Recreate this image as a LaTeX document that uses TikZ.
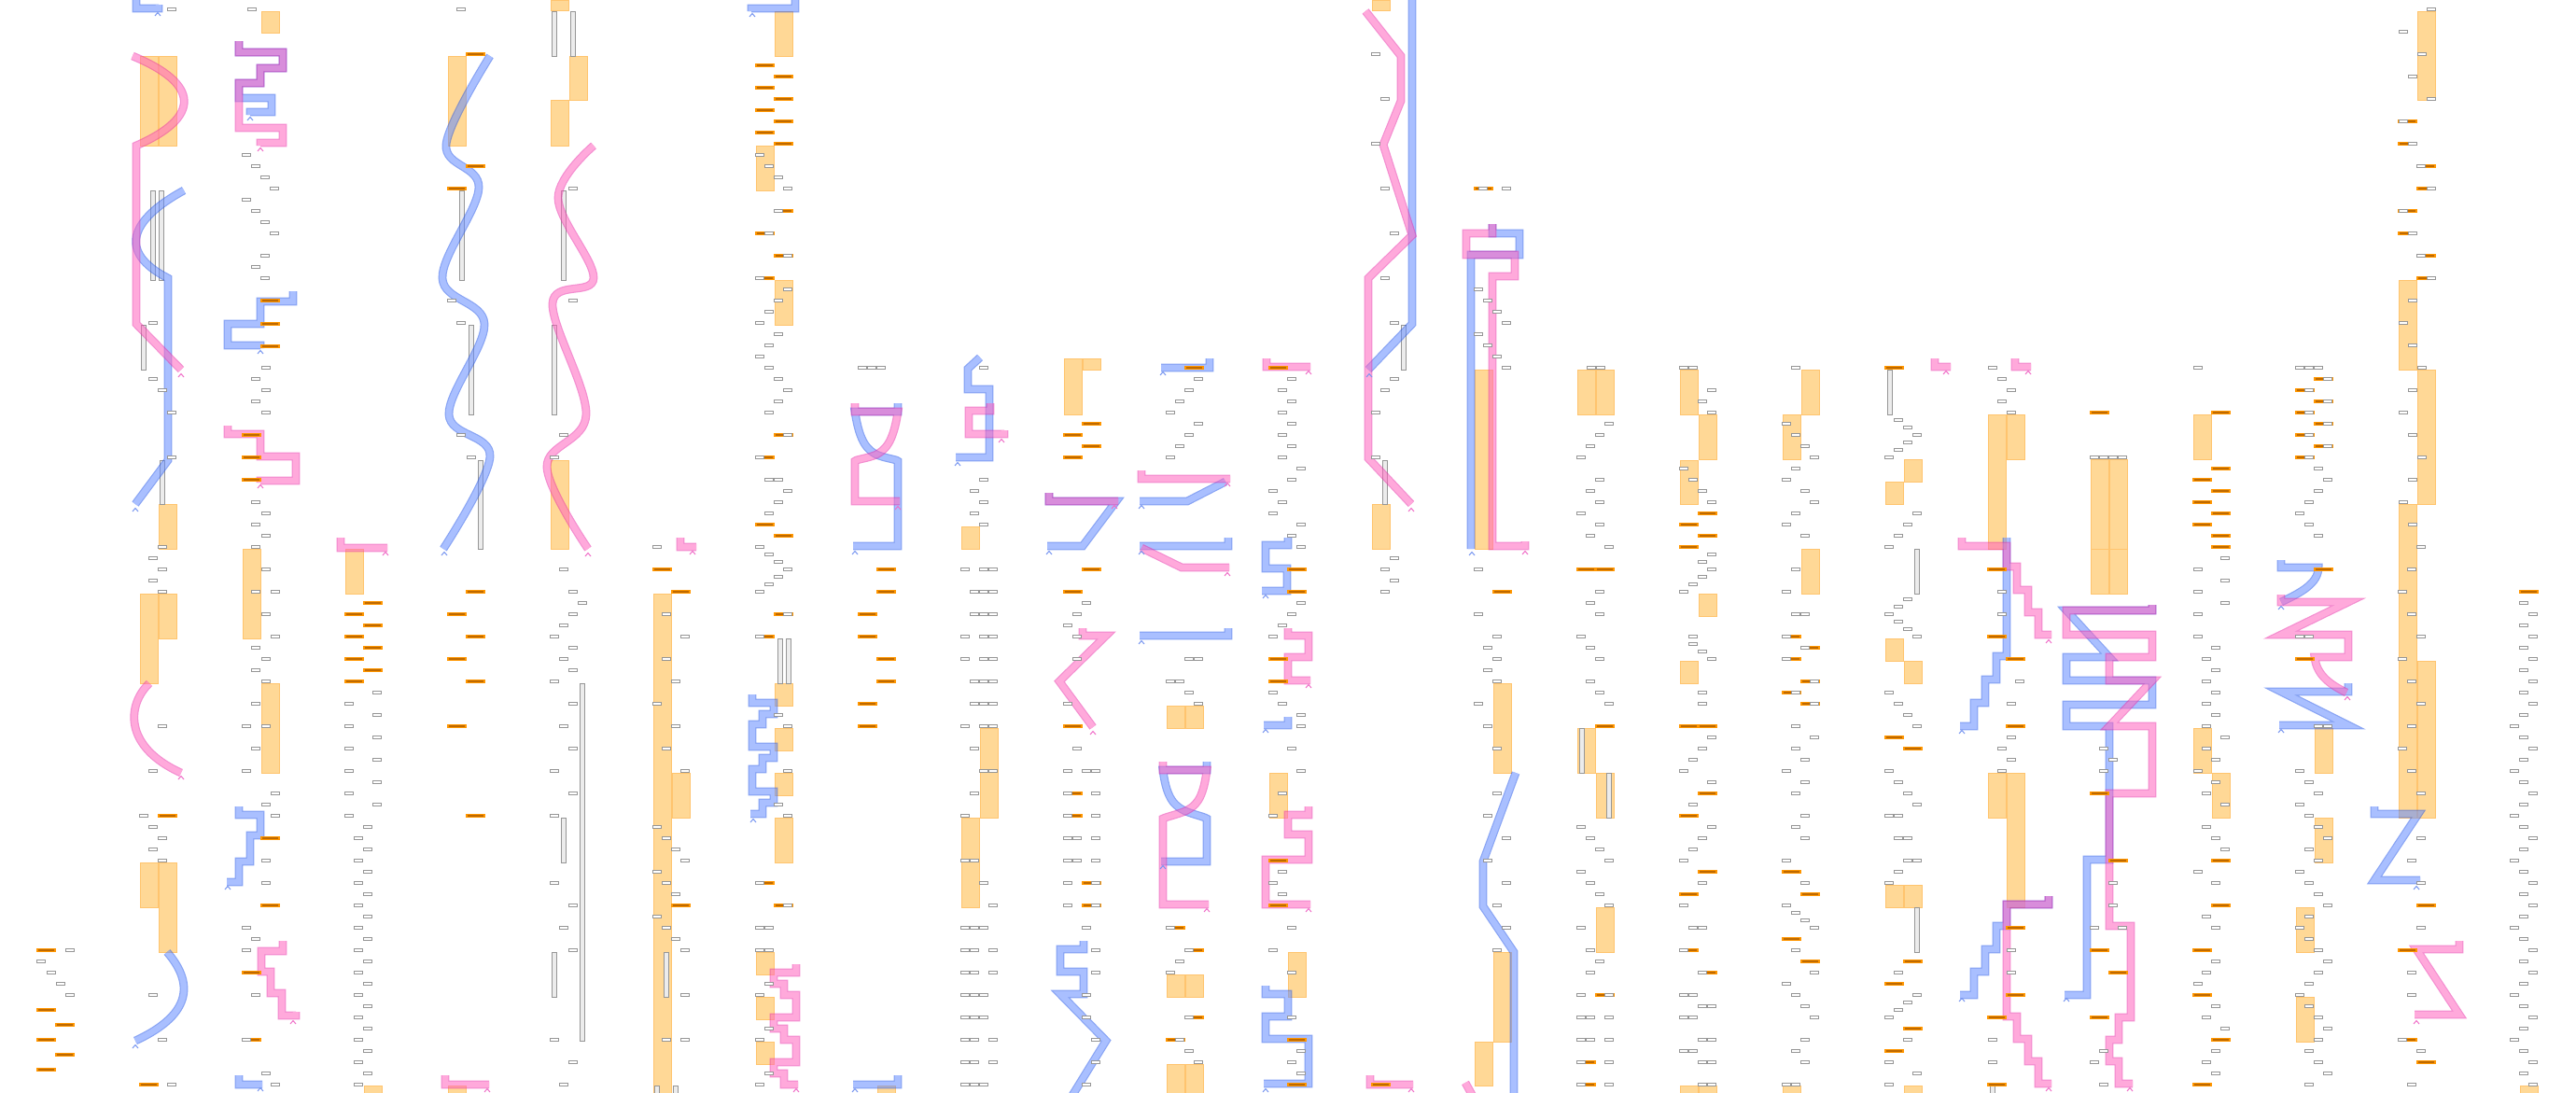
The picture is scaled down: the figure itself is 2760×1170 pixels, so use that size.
\documentclass[tikz,border=0pt]{standalone}
\begin{document}
\definecolor{colF}{RGB}{255,216,150}
\definecolor{colB}{RGB}{255,196,110}
\definecolor{obF}{RGB}{190,105,0}
\definecolor{obB}{RGB}{255,150,0}
\definecolor{tkB}{RGB}{150,150,150}
\definecolor{gdB}{RGB}{150,150,150}
\definecolor{gdF}{RGB}{236,236,236}
\definecolor{bF}{RGB}{100,140,255}
\definecolor{bB}{RGB}{40,90,235}
\definecolor{pF}{RGB}{255,100,190}
\definecolor{pB}{RGB}{235,50,170}
\definecolor{bC}{RGB}{120,150,240}
\definecolor{pC}{RGB}{240,110,200}
\newcommand\tk[2]{\path[tk] ({#1-4.3},{#2-1.5}) rectangle ({#1+4.3},{#2+1.5});}
\newcommand\ob[2]{\path[obar] (#1,{#2-1.8}) rectangle ({#1+19},{#2+1.8});}
\newcommand\cb[3]{\path[colbox] (#1,#2) rectangle ({#1+19},#3);}
\newcommand\gd[3]{\path[gdl] ({#1-2.5},#2) rectangle ({#1+2.5},#3);}
\newcommand\car[3]{\draw[#1,line width=1pt] ({#2-3},{#3+2}) -- (#2,{#3-1.5}) -- ({#2+3},{#3+2});}
\begin{tikzpicture}[x=1pt,y=-1pt,
  tk/.style={draw=tkB,fill=white,line width=0.9pt},
  obar/.style={draw=obB,fill=obF,line width=1.1pt},
  colbox/.style={draw=colB,fill=colF,line width=0.8pt},
  gdl/.style={draw=gdB,fill=gdF,line width=0.7pt},
  bline/.style={draw=bB,double=bF,line width=1.2pt,double distance=6.4pt,line join=miter},
  pline/.style={draw=pB,double=pF,line width=1.2pt,double distance=6.4pt,line join=miter}]
\useasboundingbox (0,0) rectangle (2760,1170);
\fill[white] (0,0) rectangle (2760,1170);
% ---------- columns ----------
\foreach \a/\b/\c in {280/12/35,150/60/156,170/60/156,480/60/156,590/0/11,610/60/107,590/107/156,
 830/12/60,810/156/204,830/300/348,170/540/588,590/493/588,1470/0/11,1470/540/588,1140/384/444,1160/384/396,
 1030/564/588,1580/396/588,1690/396/444,1710/396/444,1800/396/444,1820/444/492,1800/493/540,1930/396/444,1910/444/492,
 2040/492/516,2020/516/540,2130/444/588,2150/444/492,2240/492/588,2260/492/588,2350/444/492,
 2590/12/107,2570/300/396,2590/396/540,2570/540/876,
 150/636/732,170/636/684,150/924/972,170/924/1020,260/588/684,280/732/828,370/588/636,390/1163/1175,480/1163/1175,
 700/636/1175,720/828/876,830/732/756,830/780/804,830/828/852,830/876/924,810/1020/1044,810/1068/1092,810/1116/1140,
 940/1163/1175,1050/780/876,1030/876/972,1250/756/780,1270/756/780,1250/1044/1068,1270/1044/1068,1250/1140/1175,1270/1140/1175,
 1360/828/876,1380/1020/1068,1600/732/828,1600/1020/1116,1580/1116/1163,1690/780/828,1710/828/876,1710/972/1020,
 1820/636/660,1800/708/732,1800/1163/1175,1820/1163/1175,1930/588/636,1910/1163/1175,
 2020/684/708,2040/708/732,2020/948/972,2040/948/972,2040/1163/1175,2130/828/876,2150/828/972,2240/588/636,2260/588/636,
 2350/780/828,2370/828/876,2480/780/828,2480/876/924,2460/972/1020,2460/1068/1116,2590/708/876,2700/1163/1175}
 {\cb{\a}{\b}{\c}}
% ---------- grey double lines ----------
\foreach \a/\b/\c in {164/204/300,173/204/300,154/348/396,174/493/540,495/204/300,505/348/444,515/493/588,
 594/12/60,614/12/60,604/204/300,594/348/444,1504/348/396,1484/493/540,2025/396/444,
 624/732/1115,604/876/924,594/1020/1068,714/1020/1068,704/1163/1175,724/1163/1175,836/684/732,845/684/732,
 1695/780/828,1724/828/876,2054/588/636,2054/972/1020,2135/1163/1175}
 {\gd{\a}{\b}{\c}}
% ---------- blue paths ----------
\begin{scope}[transparency group,opacity=0.55]
\draw[bline] (146,-2)--(146,9)--(170,9)--(170,5);
\draw[bline] (256,44)--(256,56)--(303,56)--(303,73)--(279,73)--(279,89)--(256,89)--(256,105)--(291,105)--(291,120)--(268,120)--(268,123);
\draw[bline] (197,204) .. controls (140,235) and (125,270) .. (180,298) -- (180,493) -- (145,540);
\draw[bline] (314,312)--(314,323)--(279,323)--(279,347)--(244,347)--(244,370)--(279,370)--(279,373);
\draw[bline] plot[smooth,tension=0.6] coordinates {(525,60) (478,155) (513,201) (474,298) (519,347) (481,444) (525,489) (475,588)};
\draw[bline] (852,-2)--(852,9)--(805,9)--(805,12);
\draw[bline] (962,432)--(962,441)--(916,441) .. controls (921,475) and (930,482) .. (939,487) .. controls (948,491) and (960,492) .. (962,494) -- (962,585) -- (914,585);
\draw[bline] (1050,383)--(1037,395)--(1037,417)--(1060,417)--(1060,490)--(1024,490);
\draw[bline] (1124,528)--(1124,537)--(1196,537)--(1160,585)--(1122,585);
\draw[bline] (1296,384)--(1296,394)--(1244,394);
\draw[bline] (1313,516)--(1272,537)--(1221,537);
\draw[bline] (1316,576)--(1316,585)--(1221,585);
\draw[bline] (1513,-2)--(1513,347)--(1466,396);
\draw[bline] (1599,240)--(1599,250)--(1628,250)--(1628,273)--(1576,273)--(1576,588);
\draw[bline] (179,1020) .. controls (205,1050) and (210,1085) .. (145,1115);
\draw[bline] (256,864)--(256,873)--(279,873)--(279,895)--(268,895)--(268,923)--(256,923)--(256,945)--(243,945);
\draw[bline] (256,1152)--(256,1162)--(281,1162);
\draw[bline] (806,744)--(806,753)--(829,753)--(829,765)--(817,765)--(817,776)--(806,776)--(806,800)--(829,800)--(829,812)--(817,812)--(817,824)--(806,824)--(806,848)--(829,848)--(829,860)--(817,860)--(817,872)--(804,872);
\draw[bline] (962,1152)--(962,1162)--(914,1162);
\draw[bline] (1161,1008)--(1161,1017)--(1136,1017)--(1136,1041)--(1161,1041)--(1161,1065)--(1136,1065)--(1185,1115)--(1148,1175);
\draw[bline] (1316,673)--(1316,681)--(1221,681);
\draw[bline] (1293,816)--(1293,825)--(1246,825) .. controls (1250,858) and (1260,864) .. (1270,869) .. controls (1280,873) and (1290,875) .. (1293,877) -- (1293,923) -- (1244,923);
\draw[bline] (1380,576)--(1380,584)--(1356,584)--(1356,609)--(1379,609)--(1379,633)--(1352,633);
\draw[bline] (1380,768)--(1380,777)--(1354,777);
\draw[bline] (1356,1056)--(1356,1065)--(1380,1065)--(1380,1089)--(1356,1089)--(1356,1113)--(1402,1113)--(1402,1161)--(1354,1161);
\draw[bline] (1624,828)--(1589,923)--(1589,971)--(1622,1020)--(1622,1175);
\draw[bline] (2150,576)--(2150,703)--(2139,703)--(2139,728)--(2127,728)--(2127,753)--(2115,753)--(2115,778)--(2100,778);
\draw[bline] (2195,960)--(2195,969)--(2150,969)--(2150,992)--(2139,992)--(2139,1017)--(2127,1017)--(2127,1041)--(2115,1041)--(2115,1066)--(2100,1066);
\draw[bline] (2306,648)--(2306,654)--(2214,654)--(2260,704)--(2214,704)--(2214,729)--(2306,729)--(2306,755)--(2214,755)--(2214,778)--(2260,778)--(2260,921)--(2236,921)--(2236,1066)--(2212,1066);
\draw[bline] (2444,600)--(2444,608)--(2484,608) .. controls (2484,625) and (2465,635) .. (2444,645);
\draw[bline] (2516,732)--(2516,741)--(2444,741)--(2516,777)--(2442,777);
\draw[bline] (2544,864)--(2544,872)--(2591,872)--(2544,943)--(2593,943);
\end{scope}
% ---------- pink paths ----------
\begin{scope}[transparency group,opacity=0.55]
\draw[pline] (142,60) .. controls (215,90) and (215,126) .. (146,156) -- (146,347) -- (194,396);
\draw[pline] (256,44)--(256,56)--(303,56)--(303,73)--(279,73)--(279,89)--(256,89)--(256,137)--(303,137)--(303,153)--(279,153)--(279,156);
\draw[pline] (244,456)--(244,465)--(279,465)--(279,489)--(317,489)--(317,515)--(279,515)--(279,517);
\draw[pline] plot[smooth,tension=0.6] coordinates {(636,156) (598,212) (636,298) (592,325) (628,444) (586,500) (630,588)};
\draw[pline] (916,432)--(916,441)--(962,441) .. controls (957,475) and (948,482) .. (939,487) .. controls (930,491) and (918,492) .. (916,494) -- (916,537) -- (964,537);
\draw[pline] (1061,432)--(1061,440)--(1038,440)--(1038,465)--(1076,465)--(1076,461);
\draw[pline] (1124,528)--(1124,537)--(1198,537);
\draw[pline] (1223,504)--(1223,513)--(1318,513);
\draw[pline] (1357,384)--(1357,393)--(1404,393);
\draw[pline] (1463,12)--(1501,60)--(1501,108)--(1482,155)--(1513,252)--(1466,298)--(1466,491)--(1512,540);
\draw[pline] (1599,240)--(1599,250)--(1571,250)--(1571,273)--(1623,273)--(1623,296)--(1599,296)--(1599,585)--(1634,585)--(1634,580);
\draw[pline] (2073,384)--(2073,393)--(2090,393);
\draw[pline] (2159,384)--(2159,393)--(2176,393);
\draw[pline] (2102,576)--(2102,585)--(2150,585)--(2150,607)--(2161,607)--(2161,632)--(2173,632)--(2173,656)--(2184,656)--(2184,680)--(2198,680);
\draw[pline] (365,576)--(365,587)--(415,587);
\draw[pline] (729,576)--(729,586)--(746,586);
\draw[pline] (160,732) .. controls (136,755) and (132,800) .. (194,828);
\draw[pline] (303,1008)--(303,1019)--(280,1019)--(280,1041)--(290,1041)--(290,1064)--(302,1064)--(302,1088)--(317,1088)--(317,1084);
\draw[pline] (477,1152)--(477,1162)--(524,1162);
\draw[pline] (853,1033)--(853,1042)--(829,1042)--(829,1054)--(840,1054)--(840,1066)--(853,1066)--(853,1090)--(829,1090)--(829,1102)--(840,1102)--(840,1114)--(853,1114)--(853,1138)--(829,1138)--(829,1150)--(840,1150)--(840,1162)--(855,1162);
\draw[pline] (1223,587)--(1266,608)--(1317,608);
\draw[pline] (1160,673)--(1160,681)--(1185,681)--(1135,730)--(1171,779);
\draw[pline] (1246,816)--(1246,825)--(1293,825) .. controls (1289,858) and (1280,864) .. (1270,869) .. controls (1260,873) and (1250,875) .. (1246,877) -- (1246,969) -- (1295,969);
\draw[pline] (1380,673)--(1380,681)--(1402,681)--(1402,704)--(1380,704)--(1380,729)--(1404,729);
\draw[pline] (1402,864)--(1402,873)--(1380,873)--(1380,894)--(1402,894)--(1402,921)--(1356,921)--(1356,969)--(1404,969);
\draw[pline] (1468,1152)--(1468,1162)--(1514,1162);
\draw[pline] (1570,1160)--(1580,1178);
\draw[pline] (2195,960)--(2195,969)--(2150,969)--(2150,1089)--(2161,1089)--(2161,1113)--(2173,1113)--(2173,1137)--(2184,1137)--(2184,1161)--(2198,1161);
\draw[pline] (2306,648)--(2306,654)--(2214,654)--(2214,680)--(2306,680)--(2306,704)--(2260,704)--(2260,729)--(2306,729)--(2260,778)--(2306,778)--(2306,850)--(2260,850)--(2260,992)--(2283,992)--(2283,1090)--(2270,1090)--(2270,1114)--(2260,1114)--(2260,1137)--(2270,1137)--(2270,1161)--(2285,1161);
\draw[pline] (2444,637)--(2444,645)--(2516,645)--(2444,680)--(2516,680)--(2516,704)--(2480,704) .. controls (2482,725) and (2500,735) .. (2514,742);
\draw[pline] (2635,1008)--(2635,1017)--(2589,1017)--(2635,1087)--(2587,1087);
\end{scope}
% ---------- carets ----------
\foreach \a/\b in {169/15,268/127,145/546,279/377,476/593,806/16,916/592,1026/497,1124/592,1246/400,1223/543,1223/592,1467/402,1577/593,
 145/1121,244/951,279/1167,807/879,916/1168,1223/688,1246/929,1356/639,1356/783,1356/1168,2102/784,2102/1071,2214/1071,2444/651,2444/783,2589/951}
 {\car{bC}{\a}{\b}}
\foreach \a/\b in {194/402,279/160,279/521,630/594,962/544,1073/472,1194/543,1315/519,1402/399,1512/546,1634/592,2085/399,2173/399,2195/687,413/593,742/592,
 194/833,314/1095,522/1168,853/1168,1315/615,1171/785,1293/975,1402/735,1402/975,1512/1168,2195/1167,2282/1167,2515/748,2589/1095}
 {\car{pC}{\a}{\b}}
% ---------- orange bars ----------
\foreach \a/\b in {500/58,500/178,480/202,280/322,280/347,280/371,260/466,260/490,260/514,
 810/70,830/82,810/94,830/106,810/118,830/130,810/142,830/154,830/226,810/250,830/274,810/298,830/466,810/490,810/562,830/574,
 1160/454,1140/466,1160/478,1140/490,1160/610,1270/394,1360/394,1580/202,1690/610,1710/610,1820/550,1800/562,1820/574,2020/394,2240/442,
 2370/442,2370/502,2350/514,2370/526,2350/538,2370/550,2350/562,2370/574,2480/406,2460/418,2480/430,2460/442,2480/454,2460/466,2480/478,2460/490,
 2570/130,2570/154,2590/178,2590/202,2570/226,2570/250,2590/274,2590/298,
 40/1018,40/1082,60/1098,40/1114,60/1130,40/1146,170/874,150/1162,280/898,280/970,260/1042,260/1114,
 390/646,370/658,390/670,370/682,390/694,370/706,390/718,370/730,500/634,480/658,500/682,480/706,500/730,480/778,500/874,
 700/610,720/634,720/970,830/658,810/682,810/946,830/970,940/610,940/634,920/658,920/682,940/706,940/730,920/754,920/778,
 1140/634,1140/778,1140/850,1140/874,1160/946,1160/970,1250/994,1270/1018,1270/1090,1250/1114,
 1380/610,1380/634,1360/706,1360/730,1360/922,1360/970,1380/1114,1380/1162,1470/1162,1600/634,1710/778,1710/1066,1690/1138,1690/1162,
 1800/586,1800/778,1820/778,1820/850,1800/874,1820/934,1800/958,1800/1018,1820/1042,
 1910/682,1930/694,1910/706,1930/730,1910/742,1930/754,1910/934,1930/958,1910/1006,1930/1030,
 2020/790,2040/802,2040/1030,2020/1054,2040/1102,2020/1126,2130/610,2130/682,2150/706,2150/778,2150/994,2150/1066,2130/1090,2130/1162,
 2240/850,2260/922,2240/1018,2260/1042,2240/1090,2370/586,2370/922,2370/970,2350/1018,2350/1066,2370/1114,2350/1162,
 2480/610,2460/706,2590/970,2570/1018,2570/1114,2590/1138,2700/634}
 {\ob{\a}{\b}}
% ---------- ticks, upper band ----------
\foreach \a/\b in {184/10,164/346,164/406,174/418,184/442,184/490,
 270/10,264/166,274/178,284/190,294/202,264/214,274/226,284/238,294/250,284/274,274/286,284/298,285/394,274/406,285/418,274/430,285/442,274/538,285/550,274/562,285/574,
 494/10,484/322,494/346,494/466,505/490,614/202,614/322,604/466,594/490,
 814/166,824/178,834/190,844/202,834/226,824/250,844/274,814/298,844/310,834/322,824/334,814/346,834/358,824/370,814/382,824/394,834/406,844/418,834/430,824/442,844/466,814/490,824/514,834/514,844/526,834/538,824/550,
 924/394,934/394,944/394,1054/394,1054/514,1044/526,1054/538,1044/550,1054/562,
 1284/406,1274/418,1264/430,1254/442,1284/454,1274/466,1264/478,1254/490,
 1384/406,1374/418,1384/430,1374/442,1384/454,1374/466,1384/478,1374/490,1394/502,1384/514,1364/526,1374/538,1364/550,1394/562,1384/574,
 1474/58,1484/106,1474/154,1484/202,1494/250,1484/298,1494/346,1494/406,1484/418,1474/442,1474/490,
 1589/202,1614/202,1584/310,1594/322,1604/334,1614/346,1584/358,1594/370,1604/382,1614/394,
 1705/394,1715/394,1724/454,1714/466,1704/478,1694/490,1714/514,1704/526,1714/538,1694/550,1714/562,1704/574,1724/586,
 1804/394,1814/394,1834/418,1824/430,1834/442,1804/502,1814/514,1824/526,1834/538,
 1924/394,1914/454,1924/466,1934/478,1944/490,1924/502,1914/514,1934/526,1944/538,1924/550,1914/562,1934/574,
 2034/450,2044/458,2054/466,2044/474,2034/482,2024/490,2054/550,2044/562,2034/574,
 2135/394,2145/406,2155/418,2145/430,2155/442,2244/490,2254/490,2264/490,2274/490,2355/394,
 2464/394,2474/394,2484/394,2494/406,2474/418,2494/430,2474/442,2494/454,2474/466,2494/478,2474/490,2484/502,2494/514,2484/526,2474/538,2464/550,2474/562,2484/574,
 2605/10,2575/34,2595/58,2585/82,2605/106,2575/130,2585/154,2594/178,2605/202,2575/226,2585/250,2594/274,2605/298,2585/322,2575/346,2585/370,2595/394,2585/418,2575/442,2585/466,2595/490,2585/514,2575/538,2585/562}
 {\tk{\a}{\b}}
% ---------- ticks, lower band ----------
\foreach \a/\b in {75/1018,44/1030,55/1042,65/1054,75/1066,
 174/586,164/598,174/610,164/622,174/634,174/778,164/826,154/874,164/886,174/898,164/910,174/922,164/1066,174/1114,184/1162,
 274/586,285/610,274/634,295/634,285/658,295/682,274/694,285/706,274/718,285/730,274/754,264/778,285/778,274/802,264/826,295/850,285/862,295/874,285/922,285/946,264/994,274/1006,264/1018,274/1066,264/1114,285/1150,295/1162,
 404/742,374/754,404/766,374/778,404/790,374/802,404/814,374/826,404/838,374/850,404/862,374/874,
 604/610,614/634,624/646,614/658,604/670,594/682,614/694,604/706,614/718,594/730,614/754,604/778,614/802,594/826,614/850,594/874,594/946,614/970,604/994,614/1018,594/1114,614/1138,604/1162,
 704/586,714/658,734/682,714/706,724/730,704/754,724/778,714/802,734/826,704/886,714/898,724/910,734/922,704/934,714/946,724/958,704/982,714/994,724/1006,734/1018,734/1066,714/1114,734/1114,
 814/586,824/594,834/602,844/610,834/618,824/626,814/634,844/658,814/682,834/766,844/778,844/826,834/862,844/874,814/946,844/970,814/994,824/994,814/1018,824/1018,824/1054,814/1066,824/1102,814/1114,824/1150,814/1162,
 1034/610,1054/610,1064/610,1044/634,1054/634,1064/634,1044/658,1054/658,1064/658,1034/682,1054/682,1064/682,1034/706,1054/706,1064/706,1044/730,1054/730,1064/730,1044/754,1054/754,1064/754,1034/778,1054/778,1064/778,
 1044/802,1054/826,1064/826,1044/850,1034/874,1034/922,1044/922,1054/946,1064/970,1034/994,1044/994,1054/994,1034/1018,1044/1018,1064/1018,1034/1042,1044/1042,1064/1042,1034/1066,1044/1066,1054/1066,1034/1090,1044/1090,1054/1090,1034/1114,1044/1114,1064/1114,1034/1138,1044/1138,1064/1138,1034/1162,1044/1162,1054/1162,
 1164/646,1154/658,1144/670,1154/682,1154/706,1144/754,1154/802,1144/826,1164/826,1174/826,1144/850,1174/850,1144/874,1174/874,1144/898,1154/898,1174/898,1144/922,1154/922,1174/922,1144/946,1174/946,1144/970,1174/970,1164/994,1174/1018,1174/1042,1164/1066,1164/1090,1174/1114,1174/1138,1164/1162,
 1274/706,1284/706,1254/730,1264/730,1274/742,1284/754,1254/994,1274/1018,1264/1030,1254/1042,1274/1090,1264/1114,1274/1126,1284/1138,
 1394/586,1394/646,1384/658,1374/670,1364/682,1364/742,1374/754,1394/766,1394/778,1384/802,1394/826,1374/850,1364/874,1374/934,1364/946,1374/958,1384/994,1364/1018,1384/1042,1384/1090,1394/1126,1384/1138,1394/1150,
 1494/598,1484/610,1494/622,1484/634,
 1584/610,1584/658,1604/682,1594/694,1604/706,1594/718,1604/730,1584/754,1594/778,1604/802,1604/850,1594/874,1614/898,1594/922,1614/946,1604/970,1614/994,1604/1018,
 1714/634,1704/646,1714/658,1694/682,1704/694,1714/706,1704/730,1714/742,1724/754,1694/886,1704/898,1714/910,1724/922,1694/934,1704/946,1714/958,1724/970,1694/994,1704/1018,1714/1030,1704/1042,1694/1066,1724/1066,1694/1090,1704/1090,1724/1090,1694/1114,1704/1114,1724/1114,1694/1138,1724/1138,1694/1162,1724/1162,
 1834/594,1824/602,1834/610,1824/618,1814/626,1804/634,1814/682,1814/690,1824/698,1834/706,1824/742,1824/754,1834/790,1824/802,1814/814,1804/826,1834/838,1814/862,1834/886,1824/898,1814/910,1804/922,1824/946,1804/970,1814/994,1824/994,1804/1018,1824/1042,1804/1066,1814/1066,1824/1078,1834/1078,1804/1090,1814/1090,1824/1114,1834/1114,1804/1126,1814/1126,1824/1138,1834/1138,1824/1162,1834/1162,
 1924/610,1914/634,1924/658,1934/658,1914/682,1934/694,1914/706,1944/730,1924/742,1944/754,1924/778,1944/790,1924/802,1934/814,1914/826,1934/838,1924/850,1934/874,1924/886,1934/898,1914/922,1934/946,1914/970,1924/978,1934/986,1944/994,1924/1018,1944/1042,1914/1054,1924/1066,1934/1078,1944/1090,1934/1114,1924/1126,1934/1138,1914/1162,1924/1162,
 2024/586,2044/642,2034/650,2024/658,2034/666,2044/674,2054/682,2024/742,2034/754,2044/766,2054/778,2024/826,2034/838,2044/850,2054/862,2024/874,2034/874,2034/898,2044/898,2044/922,2054/922,2034/934,2024/946,2034/1042,2054/1066,2044/1074,2034/1082,2024/1090,2044/1114,2024/1138,2054/1150,2024/1162,
 2145/634,2145/658,2164/730,2155/754,2155/790,2145/802,2155/814,2145/826,2155/1018,2155/1042,2135/1114,2135/1138,
 2254/802,2264/814,2254/826,2264/946,2264/970,2244/994,2274/994,2254/1126,2244/1138,2254/1162,
 2384/598,2355/610,2384/622,2355/634,2384/646,2355/658,2355/682,2374/694,2364/706,2374/718,2364/730,2374/742,2364/754,2374/766,2364/778,2384/790,2364/802,2374/814,2355/826,2374/838,2364/850,2384/862,2364/886,2374/898,2384/910,2355/934,2374/946,2364/982,2374/994,2374/1030,2364/1042,2355/1054,2374/1078,2364/1090,2384/1102,2374/1126,2364/1138,2374/1150,
 2464/682,2474/682,2484/778,2494/778,2464/826,2474/838,2484/850,2464/862,2474/874,2484/886,2494/898,2474/910,2484/922,2464/934,2474/946,2484/958,2494/970,2474/982,2464/994,2474/1006,2484/1018,2494/1030,2484/1042,2474/1054,2464/1066,2474/1078,2484/1090,2494/1102,2484/1114,2474/1126,2484/1138,2494/1150,2474/1162,
 2594/586,2584/610,2574/634,2584/658,2594/682,2574/706,2584/730,2594/754,2584/778,2574/802,2584/826,2594/850,2594/898,2584/922,2594/946,2594/994,2584/1042,2584/1066,2574/1114,2594/1126,2584/1162,
 2704/646,2714/658,2704/670,2714/682,2704/694,2714/706,2704/718,2714/730,2704/742,2714/754,2704/766,2694/778,2704/790,2714/802,2704/814,2694/826,2704/838,2714/850,2704/862,2694/874,2704/886,2714/898,2704/910,2694/922,2704/934,2714/946,2704/958,2714/970,2704/982,2694/994,2704/1006,2714/1018,2704/1030,2714/1042,2704/1054,2694/1066,2704/1078,2714/1090,2704/1102,2694/1114,2704/1126,2714/1138,2704/1150,2714/1162}
 {\tk{\a}{\b}}
\foreach \y in {886,910,...,1150} {\tk{394}{\y}\tk{384}{\y+12}}
\end{tikzpicture}
\end{document}
